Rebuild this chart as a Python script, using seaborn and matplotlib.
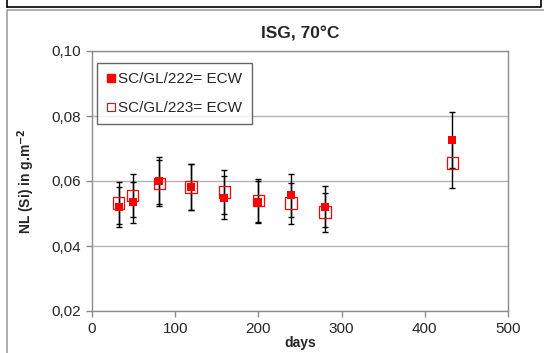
import matplotlib
matplotlib.use("Agg")
import matplotlib.pyplot as plt
import seaborn as sns
import numpy as np
from matplotlib.lines import Line2D
from matplotlib.ticker import FuncFormatter

# leaching data, ISG glass at 70 C
days = [32, 49, 81, 119, 159, 200, 239, 280, 433]
nl_222 = [0.0521, 0.0534, 0.0601, 0.0581, 0.0549, 0.0536, 0.0556, 0.0521, 0.0726]
err_222 = [0.0062, 0.0063, 0.0072, 0.0070, 0.0065, 0.0065, 0.0067, 0.0063, 0.0085]
nl_223 = [0.0532, 0.0555, 0.0593, 0.0582, 0.0566, 0.0540, 0.0532, 0.0504, 0.0655]
err_223 = [0.0065, 0.0066, 0.0071, 0.0070, 0.0067, 0.0065, 0.0063, 0.0060, 0.0077]
labels = ["SC/GL/222= ECW", "SC/GL/223= ECW"]

sns.set_style("white")
plt.rcParams["font.family"] = ["Liberation Sans", "DejaVu Sans"]

W, H = 544, 353
fig = plt.figure(figsize=(W / 100, H / 100), dpi=100)
ax = fig.add_axes([92 / W, 1 - 311 / H, 416 / W, 260 / H])

grey = "#8c8c8c"

# error bars first, then markers on top
ax.errorbar(days, nl_223, yerr=err_223, fmt="none", ecolor="black",
            elinewidth=1, capsize=2.5, capthick=1, zorder=2)
ax.errorbar(days, nl_222, yerr=err_222, fmt="none", ecolor="black",
            elinewidth=1, capsize=2.5, capthick=1, zorder=2)

sns.scatterplot(x=days, y=nl_223, marker="s", s=68, facecolor="none",
                edgecolor="red", linewidth=0.9, zorder=3, ax=ax)
sns.scatterplot(x=days, y=nl_222, marker="s", s=40, color="red",
                edgecolor="red", linewidth=0, zorder=4, ax=ax)

ax.set_xlim(0, 500)
ax.set_ylim(0.02, 0.10)
ax.set_xticks([0, 100, 200, 300, 400, 500])
ax.set_yticks([0.02, 0.04, 0.06, 0.08, 0.10])
ax.yaxis.set_major_formatter(FuncFormatter(lambda v, p: f"{v:.2f}".replace(".", ",")))
ax.tick_params(axis="both", labelsize=11, length=4, color=grey, width=1,
               direction="out", left=True, bottom=True, pad=4)
ax.yaxis.grid(True, color="#b4b4b4", linewidth=1)
ax.set_axisbelow(True)
for sp in ax.spines.values():
    sp.set_color(grey)
    sp.set_linewidth(1)

ax.set_xlabel("days", fontsize=10, fontweight="bold", labelpad=0)
ax.set_ylabel("NL (Si) in g.m$^{\\mathbf{-2}}$", fontsize=10, fontweight="bold", labelpad=10)
ax.set_title("ISG, 70°C", fontsize=12.5, fontweight="bold", pad=9)

handles = [
    Line2D([], [], marker="s", linestyle="none", markersize=5.5,
           markerfacecolor="red", markeredgecolor="red"),
    Line2D([], [], marker="s", linestyle="none", markersize=5.5,
           markerfacecolor="none", markeredgecolor="red", markeredgewidth=0.8),
]
leg = ax.legend(handles, labels, loc="upper left", bbox_to_anchor=(0.012, 0.955),
                fontsize=11, frameon=True, fancybox=False, handlelength=0.6,
                handletextpad=0.2, borderpad=0.6, labelspacing=1.0,
                borderaxespad=0)
leg.get_frame().set_edgecolor("#404040")
leg.get_frame().set_linewidth(1)

# chart frame bits from the spreadsheet
fx = lambda px: px / W
fy = lambda py: 1 - py / H
fig.add_artist(Line2D([fx(7), fx(541), fx(541)], [fy(7), fy(7), fy(0)],
                      color="black", linewidth=1.2, transform=fig.transFigure))
fig.add_artist(Line2D([fx(7), fx(7)], [fy(7), fy(0)],
                      color="black", linewidth=1.2, transform=fig.transFigure))
fig.add_artist(Line2D([fx(7), fx(7), fx(544)], [fy(353), fy(9.5), fy(9.5)],
                      color="#a0a0a0", linewidth=1.2, transform=fig.transFigure))

fig.savefig("out.png", dpi=100)
